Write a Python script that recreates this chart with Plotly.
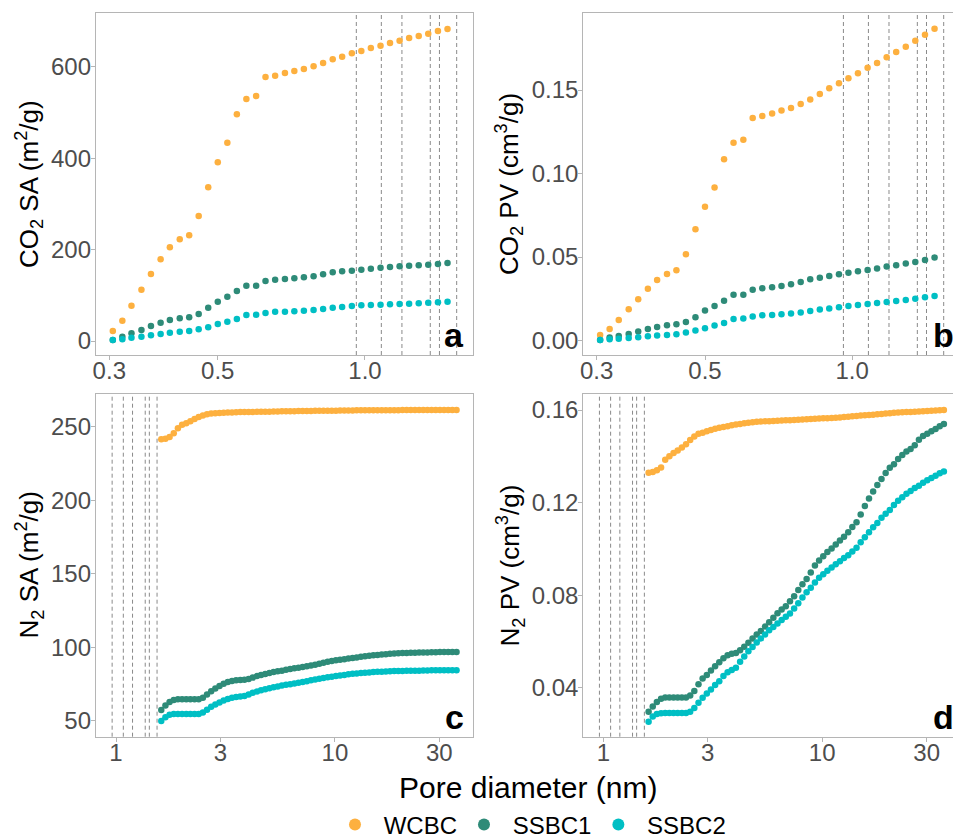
import plotly.graph_objects as go

# ---------------- data ----------------
samples = ["WCBC", "SSBC1", "SSBC2"]
colors = ["#FDB03F", "#2E8B78", "#00BFC4"]

co2_pore = [0.305, 0.319, 0.333, 0.349, 0.365, 0.382, 0.399, 0.418, 0.437, 0.457, 0.478, 0.500,
            0.523, 0.547, 0.572, 0.599, 0.626, 0.655, 0.686, 0.717, 0.750, 0.785, 0.821, 0.859,
            0.898, 0.940, 0.983, 1.028, 1.076, 1.125, 1.177, 1.231, 1.288, 1.347, 1.410, 1.475]

co2_sa_wcbc = [21.9, 44.5, 77.3, 112.3, 146.5, 178.6, 204.9, 222.4, 231.1, 273.4, 336.1, 390.8,
               433.8, 495.7, 529.3, 535.8, 577.4, 580.3, 586.1, 590.5, 594.9, 600.7, 608.0, 616.0,
               621.9, 629.1, 634.3, 640.8, 645.9, 651.8, 656.9, 662.7, 667.1, 672.2, 678.0, 682.4]
co2_sa_ssbc1 = [2.2, 9.5, 16.8, 24.1, 32.8, 40.1, 45.9, 49.6, 51.8, 59.1, 72.9, 86.0,
                97.0, 109.4, 121.0, 121.0, 131.2, 134.1, 135.6, 137.1, 139.2, 141.4, 145.8, 150.2,
                152.4, 153.8, 156.0, 158.2, 160.4, 161.8, 163.3, 164.8, 165.5, 166.9, 168.4, 170.6]
co2_sa_ssbc2 = [2.2, 3.6, 7.3, 9.5, 12.4, 15.3, 18.2, 20.4, 21.9, 25.5, 29.9, 37.2,
                42.3, 48.1, 56.9, 57.6, 61.2, 64.2, 64.2, 64.9, 66.3, 67.8, 70.0, 72.9,
                74.4, 76.5, 78.0, 78.7, 79.4, 80.2, 80.9, 81.6, 82.4, 83.8, 84.6, 86.0]

co2_pv_wcbc = [0.0034, 0.0070, 0.0124, 0.0188, 0.0247, 0.0311, 0.0363, 0.0399, 0.0421, 0.0517, 0.0666, 0.0802,
               0.0916, 0.1085, 0.1185, 0.1203, 0.1333, 0.1345, 0.1360, 0.1378, 0.1392, 0.1416, 0.1444, 0.1476,
               0.1510, 0.1540, 0.1570, 0.1600, 0.1634, 0.1662, 0.1696, 0.1728, 0.1759, 0.1795, 0.1831, 0.1867]
co2_pv_ssbc1 = [0.0004, 0.0018, 0.0028, 0.0040, 0.0054, 0.0070, 0.0082, 0.0092, 0.0098, 0.0112, 0.0140, 0.0180,
                0.0207, 0.0239, 0.0275, 0.0275, 0.0305, 0.0313, 0.0319, 0.0327, 0.0337, 0.0351, 0.0367, 0.0377,
                0.0387, 0.0397, 0.0407, 0.0415, 0.0423, 0.0431, 0.0443, 0.0451, 0.0461, 0.0471, 0.0483, 0.0497]
co2_pv_ssbc2 = [0.0004, 0.0008, 0.0012, 0.0016, 0.0020, 0.0026, 0.0030, 0.0034, 0.0038, 0.0048, 0.0060, 0.0074,
                0.0090, 0.0106, 0.0130, 0.0132, 0.0144, 0.0152, 0.0154, 0.0158, 0.0162, 0.0168, 0.0178, 0.0186,
                0.0192, 0.0200, 0.0207, 0.0213, 0.0219, 0.0225, 0.0231, 0.0237, 0.0243, 0.0251, 0.0259, 0.0267]

n2_pore = [1.610, 1.682, 1.757, 1.836, 1.918, 2.004, 2.094, 2.187, 2.285, 2.387, 2.494, 2.605,
           2.722, 2.843, 2.971, 3.103, 3.242, 3.387, 3.538, 3.697, 3.862, 4.035, 4.215, 4.404,
           4.600, 4.806, 5.021, 5.245, 5.480, 5.725, 5.981, 6.248, 6.528, 6.820, 7.124, 7.443,
           7.776, 8.123, 8.487, 8.866, 9.264, 9.678, 10.11, 10.56, 11.04, 11.53, 12.05, 12.58,
           13.15, 13.73, 14.35, 14.99, 15.66, 16.36, 17.09, 17.86, 18.66, 19.49, 20.36, 21.27,
           22.22, 23.22, 24.26, 25.34, 26.47, 27.66, 28.89, 30.19, 31.54, 32.95, 34.42, 35.96]

n2_sa_wcbc = [241.4, 241.8, 243.0, 245.5, 249.0, 251.3, 252.4, 253.6, 255.2, 256.6, 257.6, 258.4,
              258.9, 259.1, 259.3, 259.5, 259.6, 259.7, 259.8, 259.9, 259.9, 260.0, 260.0, 260.1,
              260.1, 260.2, 260.2, 260.3, 260.3, 260.4, 260.4, 260.5, 260.5, 260.6, 260.6, 260.7,
              260.7, 260.8, 260.8, 260.8, 260.9, 260.9, 260.9, 261.0, 261.0, 261.0, 261.0, 261.1,
              261.1, 261.1, 261.1, 261.1, 261.2, 261.2, 261.2, 261.2, 261.2, 261.2, 261.3, 261.3,
              261.3, 261.3, 261.3, 261.3, 261.3, 261.3, 261.3, 261.3, 261.3, 261.3, 261.3, 261.3]
n2_sa_ssbc1 = [57.5, 60.5, 62.8, 64.3, 64.7, 64.7, 64.7, 64.7, 64.7, 64.7, 65.8, 68.0,
               70.2, 72.0, 73.8, 75.3, 76.4, 77.2, 77.7, 77.9, 78.0, 78.5, 79.5, 80.5,
               81.3, 81.9, 82.6, 83.2, 83.7, 84.2, 84.8, 85.3, 85.8, 86.2, 86.7, 87.2,
               87.7, 88.2, 88.8, 89.5, 90.2, 90.8, 91.2, 91.6, 92.0, 92.4, 92.8, 93.2,
               93.6, 94.0, 94.3, 94.6, 94.9, 95.1, 95.3, 95.6, 95.8, 96.0, 96.1, 96.2,
               96.3, 96.4, 96.5, 96.6, 96.6, 96.7, 96.7, 96.8, 96.8, 96.9, 96.9, 96.9]
n2_sa_ssbc2 = [50.0, 52.5, 54.2, 54.8, 54.8, 54.8, 54.8, 54.8, 54.8, 54.8, 55.8, 57.6,
               59.6, 61.2, 62.5, 63.9, 65.0, 65.8, 66.3, 66.6, 67.0, 68.0, 69.2, 70.1,
               70.8, 71.5, 72.2, 72.9, 73.5, 74.1, 74.6, 75.0, 75.5, 76.0, 76.5, 77.0,
               77.6, 78.2, 78.7, 79.2, 79.7, 80.1, 80.5, 80.9, 81.3, 81.7, 82.0, 82.3,
               82.6, 82.8, 83.0, 83.2, 83.4, 83.5, 83.6, 83.8, 83.9, 84.0, 84.0, 84.1,
               84.1, 84.2, 84.2, 84.3, 84.3, 84.4, 84.4, 84.4, 84.4, 84.4, 84.4, 84.4]

n2_pv_wcbc = [0.1329, 0.1332, 0.1340, 0.1352, 0.1385, 0.1400, 0.1414, 0.1425, 0.1438, 0.1452, 0.1470, 0.1486,
              0.1497, 0.1502, 0.1508, 0.1514, 0.1519, 0.1523, 0.1527, 0.1530, 0.1534, 0.1537, 0.1540, 0.1543,
              0.1545, 0.1547, 0.1549, 0.1550, 0.1551, 0.1552, 0.1553, 0.1554, 0.1555, 0.1556, 0.1556, 0.1557,
              0.1558, 0.1559, 0.1560, 0.1561, 0.1562, 0.1563, 0.1564, 0.1565, 0.1566, 0.1567, 0.1568, 0.1570,
              0.1571, 0.1573, 0.1574, 0.1576, 0.1577, 0.1579, 0.1580, 0.1582, 0.1583, 0.1585, 0.1586, 0.1588,
              0.1589, 0.1590, 0.1591, 0.1592, 0.1593, 0.1594, 0.1595, 0.1596, 0.1597, 0.1598, 0.1599, 0.1600]
n2_pv_ssbc1 = [0.0296, 0.0318, 0.0338, 0.0352, 0.0357, 0.0357, 0.0357, 0.0357, 0.0357, 0.0357, 0.0366, 0.0385,
               0.0415, 0.0440, 0.0455, 0.0474, 0.0492, 0.0510, 0.0527, 0.0540, 0.0547, 0.0550, 0.0562, 0.0577,
               0.0594, 0.0612, 0.0630, 0.0645, 0.0664, 0.0683, 0.0702, 0.0722, 0.0738, 0.0752, 0.0773, 0.0795,
               0.0822, 0.0847, 0.0870, 0.0898, 0.0928, 0.0950, 0.0968, 0.0986, 0.1001, 0.1019, 0.1036, 0.1052,
               0.1072, 0.1094, 0.1115, 0.1148, 0.1185, 0.1218, 0.1248, 0.1276, 0.1302, 0.1328, 0.1350, 0.1366,
               0.1388, 0.1406, 0.1421, 0.1432, 0.1448, 0.1472, 0.1488, 0.1497, 0.1508, 0.1518, 0.1530, 0.1540]
n2_pv_ssbc2 = [0.0253, 0.0275, 0.0286, 0.0289, 0.0290, 0.0290, 0.0290, 0.0290, 0.0290, 0.0290, 0.0296, 0.0312,
               0.0335, 0.0356, 0.0375, 0.0392, 0.0411, 0.0428, 0.0450, 0.0467, 0.0476, 0.0486, 0.0512, 0.0535,
               0.0557, 0.0576, 0.0595, 0.0613, 0.0630, 0.0648, 0.0662, 0.0677, 0.0692, 0.0706, 0.0721, 0.0742,
               0.0765, 0.0790, 0.0812, 0.0832, 0.0855, 0.0875, 0.0890, 0.0905, 0.0919, 0.0933, 0.0946, 0.0960,
               0.0972, 0.0988, 0.1005, 0.1029, 0.1050, 0.1072, 0.1093, 0.1112, 0.1134, 0.1152, 0.1168, 0.1190,
               0.1208, 0.1223, 0.1238, 0.1250, 0.1263, 0.1273, 0.1286, 0.1297, 0.1306, 0.1316, 0.1327, 0.1334]

ref_diameters = [0.96, 1.08, 1.19, 1.36, 1.42, 1.54]

co2_xticks = [0.3, 0.5, 1.0]
co2_xticktext = ["0.3", "0.5", "1.0"]
n2_xticks = [1, 3, 10, 30]
n2_xticktext = ["1", "3", "10", "30"]
sa_co2_yticks = [0, 200, 400, 600]
pv_co2_yticks = [0.00, 0.05, 0.10, 0.15]
sa_n2_yticks = [50, 100, 150, 200, 250]
pv_n2_yticks = [0.04, 0.08, 0.12, 0.16]

# ---------------- figure ----------------
W, H = 953, 839
FONT = "Liberation Sans, Arial, Helvetica, sans-serif"
BORDER = "#B5B5B5"

fig = go.Figure()

panels = [
    ("x", "y", co2_pore, [co2_sa_wcbc, co2_sa_ssbc1, co2_sa_ssbc2]),
    ("x2", "y2", co2_pore, [co2_pv_wcbc, co2_pv_ssbc1, co2_pv_ssbc2]),
    ("x3", "y3", n2_pore, [n2_sa_wcbc, n2_sa_ssbc1, n2_sa_ssbc2]),
    ("x4", "y4", n2_pore, [n2_pv_wcbc, n2_pv_ssbc1, n2_pv_ssbc2]),
]
for pi, (xa, ya, xs, ys_list) in enumerate(panels):
    for si, ys in enumerate(ys_list):
        fig.add_trace(go.Scatter(
            x=xs, y=ys, mode="markers", xaxis=xa, yaxis=ya,
            name="\u00a0" + samples[si], legendgroup=samples[si], showlegend=(pi == 0),
            marker=dict(color=colors[si], size=6.5, line=dict(width=0)),
        ))

# pixel geometry
def px(xp):
    return xp / W

def py(yp):
    return 1 - yp / H

top_dom = [py(355), py(13)]
bot_dom = [py(736.7), py(394.3)]
left_dom = [px(96), px(473)]
right_dom = [px(583.3), 1.0]

co2_range = [-0.5501, 0.2209]
co2_range_r = [-0.5501, -0.5501 + (953 - 583.3) / 488.6]
n2_range = [-0.0914, 1.631]
n2_range_r = [-0.0914, -0.0914 + (953 - 583.3) / 218.9]

tickfont = dict(family=FONT, size=24, color="#4D4D4D")

def xaxis(dom, rng, vals, text, anchor, mirror=True):
    return dict(domain=dom, type="log", range=rng, tickvals=vals, ticktext=text,
                showgrid=False, zeroline=False, showline=True, linecolor=BORDER, linewidth=1.3,
                mirror=mirror, ticks="outside", ticklen=4, tickcolor=BORDER, tickwidth=1,
                tickfont=tickfont, anchor=anchor, ticklabelstandoff=-10)

def yaxis(dom, rng, vals, fmt, anchor, mirror=True):
    return dict(domain=dom, range=rng, tickvals=vals, tickformat=fmt,
                showgrid=False, zeroline=False, showline=True, linecolor=BORDER, linewidth=1.3,
                mirror=mirror, ticks="outside", ticklen=4, tickcolor=BORDER, tickwidth=1,
                tickfont=tickfont, anchor=anchor, ticklabelstandoff=-5)

fig.update_layout(
    xaxis=xaxis(left_dom, co2_range, co2_xticks, co2_xticktext, "y"),
    yaxis=yaxis(top_dom, [-30.6, 717.4], sa_co2_yticks, "d", "x"),
    xaxis2=xaxis(right_dom, co2_range_r, co2_xticks, co2_xticktext, "y2"),
    yaxis2=yaxis(top_dom, [-0.0086, 0.1961], pv_co2_yticks, ".2f", "x2", mirror=False),
    xaxis3=xaxis(left_dom, n2_range, n2_xticks, n2_xticktext, "y3"),
    yaxis3=yaxis(bot_dom, [39.3, 272.0], sa_n2_yticks, "d", "x3"),
    xaxis4=xaxis(right_dom, n2_range_r, n2_xticks, n2_xticktext, "y4"),
    yaxis4=yaxis(bot_dom, [0.0188, 0.1668], pv_n2_yticks, ".2f", "x4", mirror=False),
)

# dashed reference lines
for xa, ya in [("x", "y"), ("x2", "y2"), ("x3", "y3"), ("x4", "y4")]:
    for d in ref_diameters:
        fig.add_shape(type="line", xref=xa, yref=ya + " domain", x0=d, x1=d, y0=0, y1=1,
                      line=dict(color="#8A8A8A", width=1, dash="4px,3px"), layer="below")

annotations = []
# y-axis titles
ytitles = [
    ("CO<sub>2</sub> SA (m<sup>2</sup>/g)", 29, 184),
    ("CO<sub>2</sub> PV (cm<sup>3</sup>/g)", 509, 184),
    ("N<sub>2</sub> SA (m<sup>2</sup>/g)", 29, 565.5),
    ("N<sub>2</sub> PV (cm<sup>3</sup>/g)", 510, 565.5),
]
for t, xc, yc in ytitles:
    annotations.append(dict(text=t, xref="paper", yref="paper", x=px(xc), y=py(yc),
                            xanchor="center", yanchor="middle", textangle=-90, showarrow=False,
                            font=dict(family=FONT, size=26, color="black")))
# panel labels
for lab, xr, yb in [("a", 466, 356), ("b", 956, 356), ("c", 466, 738), ("d", 956, 738)]:
    annotations.append(dict(text="<b>%s</b>" % lab, xref="paper", yref="paper", x=px(xr), y=py(yb),
                            xanchor="right", yanchor="bottom", showarrow=False,
                            font=dict(family=FONT, size=34, color="black")))
# shared x title
annotations.append(dict(text="Pore diameter (nm)", xref="paper", yref="paper", x=px(528), y=py(787),
                        xanchor="center", yanchor="middle", showarrow=False,
                        font=dict(family=FONT, size=30, color="black")))

fig.update_layout(
    annotations=annotations,
    width=W, height=H,
    margin=dict(l=0, r=0, t=0, b=0, autoexpand=False),
    paper_bgcolor="white", plot_bgcolor="white",
    font=dict(family=FONT),
    showlegend=True,
    legend=dict(orientation="h", x=px(532), xanchor="center", y=py(825), yanchor="middle",
                font=dict(family=FONT, size=24, color="black"), itemsizing="constant",
                itemwidth=34, bgcolor="rgba(0,0,0,0)", tracegroupgap=0),
)

fig.write_html("out.html", config={"displayModeBar": False},
               post_script="document.body.style.margin='0';document.body.style.overflow='hidden';")
